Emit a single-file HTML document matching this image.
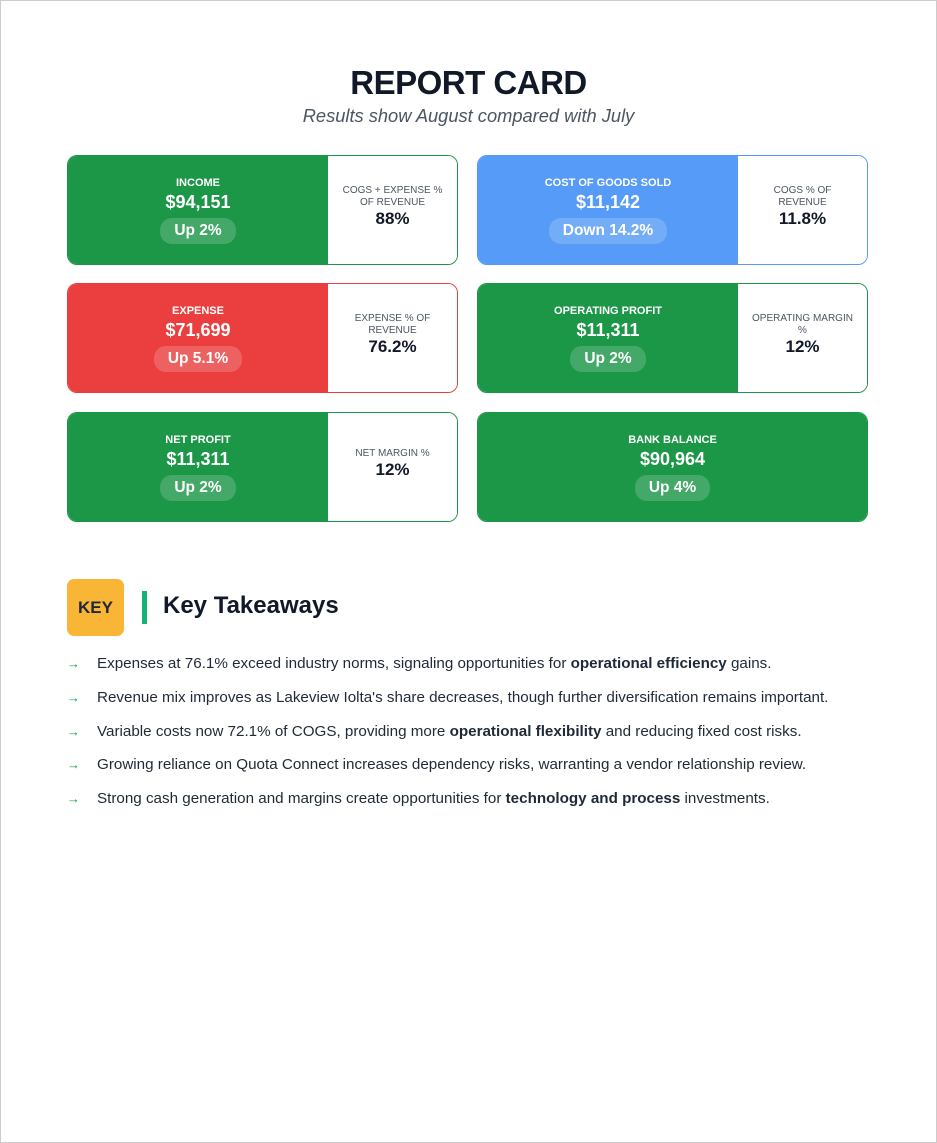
<!DOCTYPE html>
<html><head><meta charset="utf-8"><style>
*{box-sizing:border-box;margin:0;padding:0}
html,body{width:937px;height:1143px}
body{background:#fff;font-family:"Liberation Sans",Arial,sans-serif;position:relative;overflow:hidden}
.frame{position:absolute;left:0;top:0;width:937px;height:1143px;border:1px solid #ccc}
h1{position:absolute;top:64px;left:0;width:937px;text-align:center;font-size:33px;font-weight:bold;color:#111827;letter-spacing:-0.5px}
.sub{position:absolute;top:105px;left:0;width:937px;text-align:center;font-size:18.3px;font-style:italic;color:#4b5563}
.card{position:absolute;width:391px;height:110px;border-radius:10px;border:1px solid;overflow:hidden;display:flex}
.l{width:260px;height:100%;color:#fff;text-align:center;padding-top:21px}
.l .t{font-size:11px;font-weight:bold}
.l .v{font-size:18px;font-weight:bold;margin-top:3px}
.l .p{display:inline-block;margin-top:5px;background:rgba(255,255,255,.18);border-radius:12px;padding:4px 14px;font-size:15.5px;font-weight:bold}
.r{flex:1;background:#fff;display:flex;flex-direction:column;justify-content:center;align-items:center;text-align:center;padding:0 10px 6px}
.r .t{font-size:10px;color:#4b5563;line-height:12px}
.r .v{font-size:17px;font-weight:bold;color:#111827}
.g{background:#1c9747}.b{background:#559bf7}.red{background:#eb3f3f}
.key{position:absolute;left:67px;top:579px;width:57px;height:57px;background:#f9b535;border-radius:7px;font-size:17px;font-weight:bold;color:#1f2937;display:flex;align-items:center;justify-content:center}
.bar{position:absolute;left:142px;top:591px;width:5px;height:33px;background:#14b479}
.kt{position:absolute;left:163px;top:592px;font-size:24px;font-weight:bold;color:#111827}
.li{position:absolute;left:67px;font-size:15.2px;color:#1f2937;white-space:nowrap}
.li span.a{color:#16a34a;display:inline-block;width:30px;font-size:13px}
</style></head><body>
<div class="frame"></div>
<h1>REPORT CARD</h1>
<div class="sub">Results show August compared with July</div>

<div class="card" style="left:67px;top:155px;border-color:#1c9747"><div class="l g"><div class="t">INCOME</div><div class="v">$94,151</div><div class="p">Up 2%</div></div><div class="r"><div class="t">COGS + EXPENSE %<br>OF REVENUE</div><div class="v">88%</div></div></div>
<div class="card" style="left:477px;top:155px;border-color:#559bf7"><div class="l b"><div class="t">COST OF GOODS SOLD</div><div class="v">$11,142</div><div class="p">Down 14.2%</div></div><div class="r"><div class="t">COGS % OF<br>REVENUE</div><div class="v">11.8%</div></div></div>
<div class="card" style="left:67px;top:283px;border-color:#eb3f3f"><div class="l red"><div class="t">EXPENSE</div><div class="v">$71,699</div><div class="p">Up 5.1%</div></div><div class="r"><div class="t">EXPENSE % OF<br>REVENUE</div><div class="v">76.2%</div></div></div>
<div class="card" style="left:477px;top:283px;border-color:#1c9747"><div class="l g"><div class="t">OPERATING PROFIT</div><div class="v">$11,311</div><div class="p">Up 2%</div></div><div class="r"><div class="t">OPERATING MARGIN<br>%</div><div class="v">12%</div></div></div>
<div class="card" style="left:67px;top:412px;border-color:#1c9747"><div class="l g"><div class="t">NET PROFIT</div><div class="v">$11,311</div><div class="p">Up 2%</div></div><div class="r"><div class="t">NET MARGIN %</div><div class="v">12%</div></div></div>
<div class="card" style="left:477px;top:412px;border-color:#1c9747"><div class="l g" style="width:100%"><div class="t">BANK BALANCE</div><div class="v">$90,964</div><div class="p">Up 4%</div></div></div>

<div class="key">KEY</div><div class="bar"></div><div class="kt">Key Takeaways</div>
<div class="li" style="top:655px"><span class="a">→</span>Expenses at 76.1% exceed industry norms, signaling opportunities for <b>operational efficiency</b> gains.</div>
<div class="li" style="top:689px"><span class="a">→</span>Revenue mix improves as Lakeview Iolta's share decreases, though further diversification remains important.</div>
<div class="li" style="top:723px"><span class="a">→</span>Variable costs now 72.1% of COGS, providing more <b>operational flexibility</b> and reducing fixed cost risks.</div>
<div class="li" style="top:756px"><span class="a">→</span>Growing reliance on Quota Connect increases dependency risks, warranting a vendor relationship review.</div>
<div class="li" style="top:790px"><span class="a">→</span>Strong cash generation and margins create opportunities for <b>technology and process</b> investments.</div>
</body></html>
